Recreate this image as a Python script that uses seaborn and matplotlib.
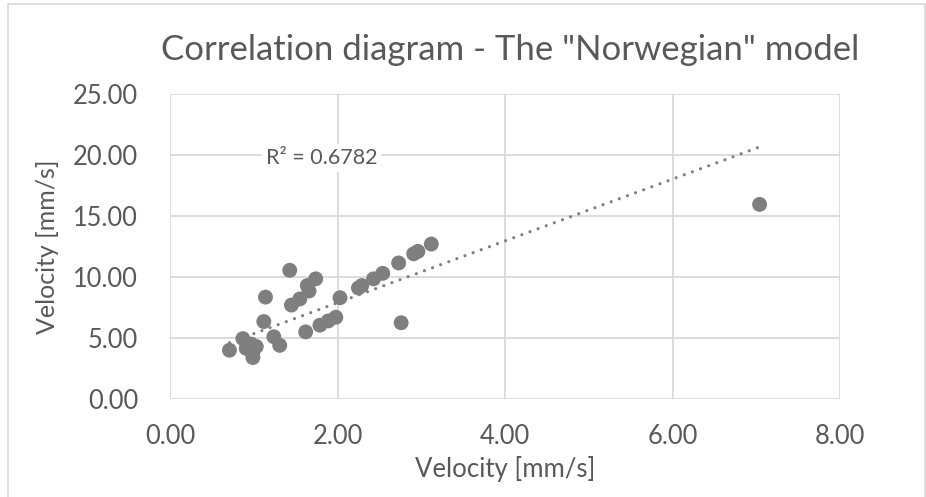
import matplotlib
matplotlib.use("Agg")
import matplotlib.pyplot as plt
import seaborn as sns
import numpy as np
import pandas as pd
from matplotlib.patches import Rectangle

# Measured velocities, reference method (x) vs. "Norwegian" model (y), mm/s
velocity_x = [0.71, 0.87, 0.91, 0.97, 0.99, 1.03, 0.99, 1.12, 1.14, 1.24,
              1.31, 1.43, 1.45, 1.55, 1.62, 1.64, 1.66, 1.74, 1.79, 1.89,
              1.98, 2.03, 2.25, 2.29, 2.43, 2.54, 2.73, 2.76, 2.91, 2.96,
              3.12, 7.04]
velocity_y = [4.00, 4.95, 4.15, 4.50, 3.40, 4.30, 3.85, 6.35, 8.35, 5.10,
              4.40, 10.55, 7.70, 8.20, 5.50, 9.30, 8.85, 9.85, 6.05, 6.40,
              6.70, 8.30, 9.10, 9.30, 9.85, 10.30, 11.15, 6.25, 11.90, 12.10,
              12.70, 15.95]

# Linear trendline coefficients (y = slope * x + intercept)
trend_slope = 2.534
trend_intercept = 2.82

x_ticks = [0, 2, 4, 6, 8]
y_ticks = [0, 5, 10, 15, 20, 25]
r_squared_label = "R² = 0.6782"
title = 'Correlation diagram - The "Norwegian" model'
axis_label = "Velocity [mm/s]"

df = pd.DataFrame({"x": velocity_x, "y": velocity_y})
trend_x = np.array([df["x"].min(), df["x"].max()])
trend = pd.DataFrame({"x": trend_x, "y": trend_slope * trend_x + trend_intercept})

sns.set_theme(style="white")
plt.rcParams["font.family"] = ["Lato", "DejaVu Sans"]

TEXT = "#595959"
GRID = "#d9d9d9"
MARK = "#7f7f7f"

fig = plt.figure(figsize=(9.26, 4.97), dpi=100)
fig.patch.set_facecolor("white")
ax = fig.add_axes([170 / 926, 1 - 399 / 497, 670 / 926, 305 / 497])

sns.lineplot(data=trend, x="x", y="y", ax=ax, color=MARK, lw=2.3,
             dashes=False, zorder=2)
ax.lines[-1].set_dashes((0.01, 2.7))
ax.lines[-1].set_dash_capstyle("round")
sns.scatterplot(data=df, x="x", y="y", ax=ax, s=115, color=MARK,
                edgecolor="none", alpha=1, zorder=3)

ax.set_xlim(0, 8)
ax.set_ylim(0, 25)
ax.set_xticks(x_ticks)
ax.set_yticks(y_ticks)
ax.set_xticklabels([f"{v:.2f}" for v in x_ticks])
ax.set_yticklabels([f"{v:.2f}" for v in y_ticks])
ax.tick_params(axis="both", length=0, labelsize=18.4, colors=TEXT)
ax.tick_params(axis="y", pad=23)
ax.tick_params(axis="x", pad=18)

ax.grid(True, color=GRID, lw=1.3)
ax.set_axisbelow(True)
for side in ax.spines:
    ax.spines[side].set_visible(False)

ax.set_xlabel(axis_label, fontsize=18.5, color=TEXT, labelpad=5)
ax.set_ylabel(axis_label, fontsize=18, color=TEXT, labelpad=10)
fig.text(510 / 926, 1 - 50 / 497, title, ha="center", va="center",
         fontsize=25, color=TEXT)

ax.text(0.226, 0.79, r_squared_label, transform=ax.transAxes, ha="center",
        va="center", fontsize=15.5, color=TEXT, zorder=5,
        bbox=dict(facecolor="white", edgecolor="none", pad=3))

# thin chart-area frame
fig.patches.append(Rectangle((8 / 926, -0.01), 917 / 926, 1 - 4 / 497 + 0.01,
                             transform=fig.transFigure, fill=False,
                             edgecolor=GRID, lw=1.2))

fig.savefig("out.png", dpi=100, facecolor="white")
